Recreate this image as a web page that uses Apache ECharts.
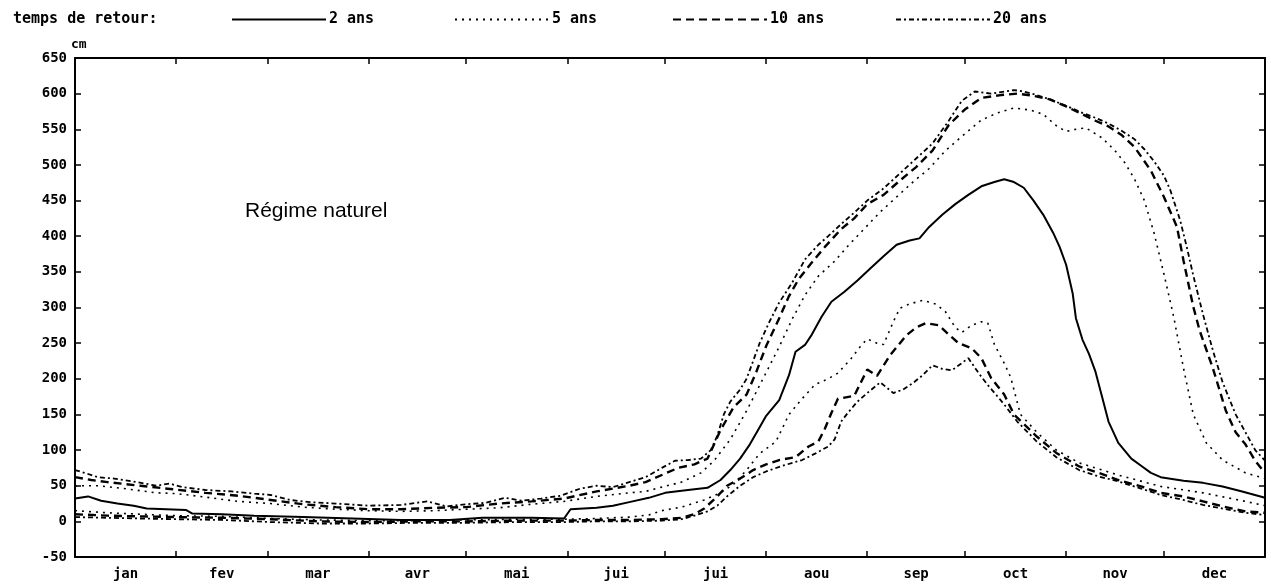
<!DOCTYPE html>
<html>
<head>
<meta charset="utf-8">
<script src="https://cdn.jsdelivr.net/npm/echarts@6/dist/echarts.min.js"></script>
<style>
  html, body { margin: 0; padding: 0; background: #fff; }
  #chart { width: 1271px; height: 586px; }
</style>
</head>
<body>
<div id="chart"></div>
<script>
// Day-of-year axis: month boundaries and mid-month label positions
const monthNames = ['jan', 'fev', 'mar', 'avr', 'mai', 'jui', 'jui', 'aou', 'sep', 'oct', 'nov', 'dec'];
const monthEnds = [31, 59, 90, 120, 151, 181, 212, 243, 273, 304, 334];
const monthMids = [15.5, 45, 74.5, 105, 135.5, 166, 196.5, 227.5, 258, 288.5, 319, 349.5];
const yTicks = [-50, 0, 50, 100, 150, 200, 250, 300, 350, 400, 450, 500, 550, 600, 650];

// Water level (cm) by day of year, natural regime, per return period
const q2 = [[0,32],[4,35],[8,29],[13,25],[18,22],[22,18],[34,16],[36,11],[45,10],[55,8],[70,6],[85,4],[100,2],[115,2],[125,5],[140,5],[150,4],[152,17],[160,19],[165,22],[170,27],[176,33],[181,40],[188,44],[194,47],[198,58],[201,72],[204,88],[207,108],[210,132],[212,148],[216,170],[219,205],[221,238],[224,248],[226,262],[229,287],[232,308],[236,322],[240,338],[244,355],[248,372],[252,388],[256,394],[259,397],[262,413],[266,430],[270,445],[274,458],[278,470],[282,476],[285,480],[288,476],[291,468],[294,450],[297,430],[300,405],[302,385],[304,360],[306,320],[307,285],[309,255],[311,235],[313,210],[315,175],[317,140],[320,110],[324,88],[327,78],[330,68],[333,62],[340,57],[346,54],[352,49],[358,42],[365,33]];

const q20High = [[0,72],[3,68],[7,62],[12,60],[19,55],[25,50],[29,53],[33,48],[40,44],[48,42],[55,39],[60,37],[66,30],[72,27],[80,25],[90,22],[100,23],[108,28],[114,21],[120,24],[126,26],[132,33],[137,29],[143,32],[149,36],[155,46],[160,50],[165,48],[170,55],[175,62],[180,75],[184,85],[188,86],[192,88],[195,100],[197,120],[199,150],[201,168],[204,185],[206,200],[208,225],[210,250],[213,280],[216,307],[220,335],[224,368],[228,388],[231,400],[235,417],[239,433],[243,450],[248,467],[253,488],[258,509],[263,530],[268,562],[272,590],[276,603],[281,600],[285,603],[288,605],[291,603],[295,598],[299,592],[304,583],[309,573],[313,566],[317,558],[321,548],[325,536],[328,522],[331,505],[334,485],[336,464],[339,422],[341,385],[343,345],[346,290],[349,240],[352,195],[356,150],[359,125],[362,100],[365,85]];

const q10High = [[0,62],[5,58],[10,55],[20,50],[30,45],[40,40],[50,36],[60,30],[70,24],[80,20],[90,17],[100,17],[110,19],[120,20],[130,25],[140,28],[150,32],[160,42],[170,50],[175,55],[180,65],[185,75],[190,80],[194,88],[198,128],[202,160],[206,178],[209,210],[212,246],[216,285],[219,316],[222,340],[226,363],[230,385],[235,410],[239,425],[243,445],[248,458],[253,478],[258,497],[263,520],[268,556],[273,578],[278,594],[284,598],[289,600],[294,597],[299,592],[304,582],[309,571],[313,562],[317,554],[321,542],[325,525],[330,492],[334,455],[338,413],[340,366],[343,301],[345,267],[349,215],[353,155],[356,125],[359,108],[362,85],[365,68]];

const q5High = [[0,50],[7,50],[15,46],[25,40],[31,39],[40,34],[50,28],[60,25],[70,20],[80,17],[90,15],[100,14],[110,15],[120,17],[130,19],[140,24],[150,28],[160,35],[170,40],[175,42],[180,48],[186,55],[192,68],[196,85],[201,115],[206,155],[211,200],[216,245],[220,284],[224,318],[228,344],[233,365],[237,386],[242,410],[247,434],[252,455],[257,476],[262,495],[267,520],[272,540],[278,563],[283,573],[288,580],[293,577],[297,571],[301,555],[304,547],[307,550],[310,552],[315,538],[319,520],[322,503],[325,480],[328,450],[331,404],[334,347],[337,287],[340,215],[343,150],[347,110],[352,86],[359,68],[365,60]];

const q5Low = [[0,15],[10,12],[20,10],[31,8],[45,7],[60,4],[75,2],[90,1],[105,1],[120,2],[135,3],[150,3],[160,4],[170,6],[176,9],[180,15],[186,20],[193,30],[198,40],[202,52],[206,72],[210,95],[215,112],[219,150],[223,172],[227,192],[231,200],[234,208],[238,228],[241,246],[243,256],[246,250],[248,248],[251,280],[253,299],[256,305],[260,310],[264,305],[267,294],[270,272],[272,265],[275,275],[278,280],[280,278],[282,248],[285,222],[287,202],[290,150],[295,125],[301,100],[308,82],[320,65],[333,49],[346,40],[359,28],[365,22]];

const q10Low = [[0,10],[10,8],[20,7],[31,6],[45,5],[60,3],[75,0],[90,-1],[105,0],[120,0],[135,1],[150,1],[160,2],[170,2],[180,3],[186,5],[190,10],[193,18],[197,35],[200,50],[204,60],[208,72],[212,80],[216,86],[221,90],[225,105],[228,112],[230,130],[232,152],[234,172],[239,176],[243,213],[246,204],[250,233],[255,261],[258,272],[261,278],[265,275],[268,262],[271,250],[275,243],[278,229],[281,201],[285,178],[288,150],[295,119],[301,96],[308,77],[314,68],[320,58],[327,49],[333,40],[340,35],[346,28],[352,21],[359,14],[365,12]];

const q20Low = [[0,6],[10,5],[20,4],[31,3],[45,2],[60,-1],[75,-3],[90,-3],[105,-2],[120,-2],[135,-1],[150,-1],[160,0],[170,0],[180,1],[186,3],[190,8],[194,14],[197,22],[200,35],[204,50],[208,62],[212,70],[217,78],[223,86],[227,95],[231,105],[233,115],[235,140],[237,152],[240,168],[243,180],[247,195],[251,180],[254,185],[257,194],[260,205],[263,219],[266,214],[269,212],[272,222],[274,229],[277,209],[280,191],[283,175],[285,164],[289,140],[295,112],[301,90],[308,72],[314,63],[320,56],[327,46],[333,37],[340,30],[346,23],[352,18],[359,12],[365,9]];

const MONO = '"DejaVu Sans Mono", monospace';
const INK = '#000';

// Line patterns per return period
const styles = {
  '2 ans':  { type: 'solid', width: 2 },
  '5 ans':  { type: [2, 5], width: 1.6 },
  '10 ans': { type: [8, 5], width: 2.4 },
  '20 ans': { type: [5, 3, 2, 3], width: 1.8 }
};

function curve(name, data) {
  return {
    type: 'line',
    name: name,
    data: data,
    symbol: 'none',
    showSymbol: false,
    smooth: false,
    silent: true,
    lineStyle: { color: INK, width: styles[name].width, type: styles[name].type, cap: 'butt' },
    itemStyle: { color: INK }
  };
}

function legendAt(name, left) {
  return {
    data: [name],
    left: left,
    top: 7,
    itemWidth: 94,
    itemHeight: 14,
    itemGap: 0,
    selectedMode: false,
    itemStyle: { opacity: 0 },
    textStyle: { fontFamily: MONO, fontWeight: 'bold', fontSize: 15, color: INK, padding: [0, 0, 0, -2] }
  };
}

const frameLine = { show: true, onZero: false, lineStyle: { color: INK, width: 2 } };
const innerTick = { show: true, inside: true, length: 6, lineStyle: { color: INK, width: 1.5 } };

const chart = echarts.init(document.getElementById('chart'), null, { renderer: 'canvas' });

chart.setOption({
  animation: false,
  backgroundColor: '#fff',
  title: {
    text: 'temps de retour:',
    left: 8,
    top: 7,
    textStyle: { fontFamily: MONO, fontWeight: 'bold', fontSize: 15, color: INK }
  },
  legend: [
    legendAt('2 ans', 226),
    legendAt('5 ans', 449),
    legendAt('10 ans', 667),
    legendAt('20 ans', 890)
  ],
  grid: { left: 75, right: 6, top: 58, bottom: 29 },
  xAxis: [
    {
      type: 'value',
      min: 0,
      max: 365,
      position: 'bottom',
      axisLine: frameLine,
      axisTick: Object.assign({}, innerTick, { customValues: monthEnds }),
      axisLabel: {
        show: true,
        customValues: monthMids,
        margin: 10,
        fontFamily: MONO, fontWeight: 'bold', fontSize: 14, color: INK,
        formatter: function (v) {
          const i = monthMids.indexOf(v);
          return i >= 0 ? monthNames[i] : '';
        }
      },
      splitLine: { show: false }
    },
    {
      type: 'value',
      min: 0,
      max: 365,
      position: 'top',
      axisLine: frameLine,
      axisTick: Object.assign({}, innerTick, { customValues: monthEnds }),
      axisLabel: { show: false },
      splitLine: { show: false }
    }
  ],
  yAxis: [
    {
      type: 'value',
      min: -50,
      max: 650,
      interval: 50,
      position: 'left',
      name: 'cm',
      nameLocation: 'end',
      nameGap: 5,
      nameTextStyle: { fontFamily: MONO, fontWeight: 'bold', fontSize: 13, color: INK, align: 'left', padding: [0, 0, 0, -4] },
      axisLine: frameLine,
      axisTick: innerTick,
      axisLabel: {
        margin: 8,
        fontFamily: MONO, fontWeight: 'bold', fontSize: 14, color: INK,
        formatter: function (v) { return yTicks.indexOf(v) >= 0 ? String(v) : ''; }
      },
      splitLine: { show: false }
    },
    {
      type: 'value',
      min: -50,
      max: 650,
      interval: 50,
      position: 'right',
      axisLine: frameLine,
      axisTick: innerTick,
      axisLabel: { show: false },
      splitLine: { show: false }
    }
  ],
  graphic: [
    {
      type: 'text',
      left: 245,
      top: 201,
      silent: true,
      style: { text: 'Régime naturel', font: '21px "Liberation Sans", Arial, sans-serif', fill: INK }
    }
  ],
  series: [
    curve('2 ans', q2),
    curve('5 ans', q5High),
    curve('10 ans', q10High),
    curve('20 ans', q20High),
    curve('5 ans', q5Low),
    curve('10 ans', q10Low),
    curve('20 ans', q20Low)
  ]
});
</script>
</body>
</html>
